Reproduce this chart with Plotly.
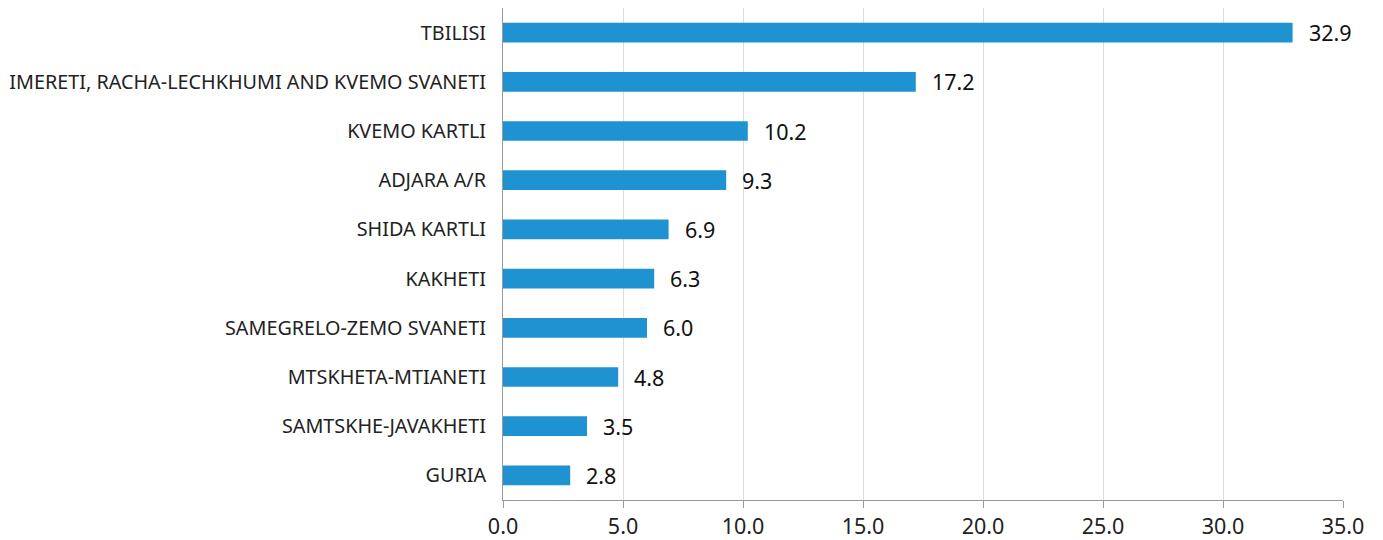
import plotly.graph_objects as go

regions = ["TBILISI", "IMERETI, RACHA-LECHKHUMI AND KVEMO SVANETI", "KVEMO KARTLI",
           "ADJARA A/R", "SHIDA KARTLI", "KAKHETI", "SAMEGRELO-ZEMO SVANETI",
           "MTSKHETA-MTIANETI", "SAMTSKHE-JAVAKHETI", "GURIA"]
values = [32.9, 17.2, 10.2, 9.3, 6.9, 6.3, 6.0, 4.8, 3.5, 2.8]
tick_vals = [0, 5, 10, 15, 20, 25, 30, 35]
tick_text = ["0.0", "5.0", "10.0", "15.0", "20.0", "25.0", "30.0", "35.0"]

fig = go.Figure()
fig.add_trace(go.Bar(
    x=values, y=regions, orientation="h",
    marker=dict(color="#1f93d1", line=dict(width=0)),
    hoverinfo="x+y",
))
for r, v in zip(regions, values):
    fig.add_annotation(x=v, y=r, text=f"{v:.1f}", showarrow=False,
                       xanchor="left", xshift=14,
                       font=dict(family="Noto Sans", size=21.5, color="#111"))

fig.update_layout(
    width=1383, height=540,
    margin=dict(l=495, r=48, t=0, b=48),
    plot_bgcolor="white", paper_bgcolor="white",
    bargap=0.6, showlegend=False,
    font=dict(family="Noto Sans", color="#222"),
)
fig.update_xaxes(range=[0, 35], tickvals=tick_vals, ticktext=tick_text,
                 showgrid=True, gridcolor="#dcdcdc", gridwidth=1,
                 showline=True, linecolor="#9a9a9a", linewidth=1,
                 ticks="outside", ticklen=7, tickcolor="#9a9a9a",
                 tickfont=dict(size=21.5, color="#222"), zeroline=False)
fig.update_yaxes(categoryorder="array", categoryarray=regions[::-1],
                 showline=True, linecolor="#9a9a9a", linewidth=1,
                 ticks="", tickfont=dict(size=19.8, color="#222"),
                 ticklabelstandoff=12)
fig.write_html("out.html")
